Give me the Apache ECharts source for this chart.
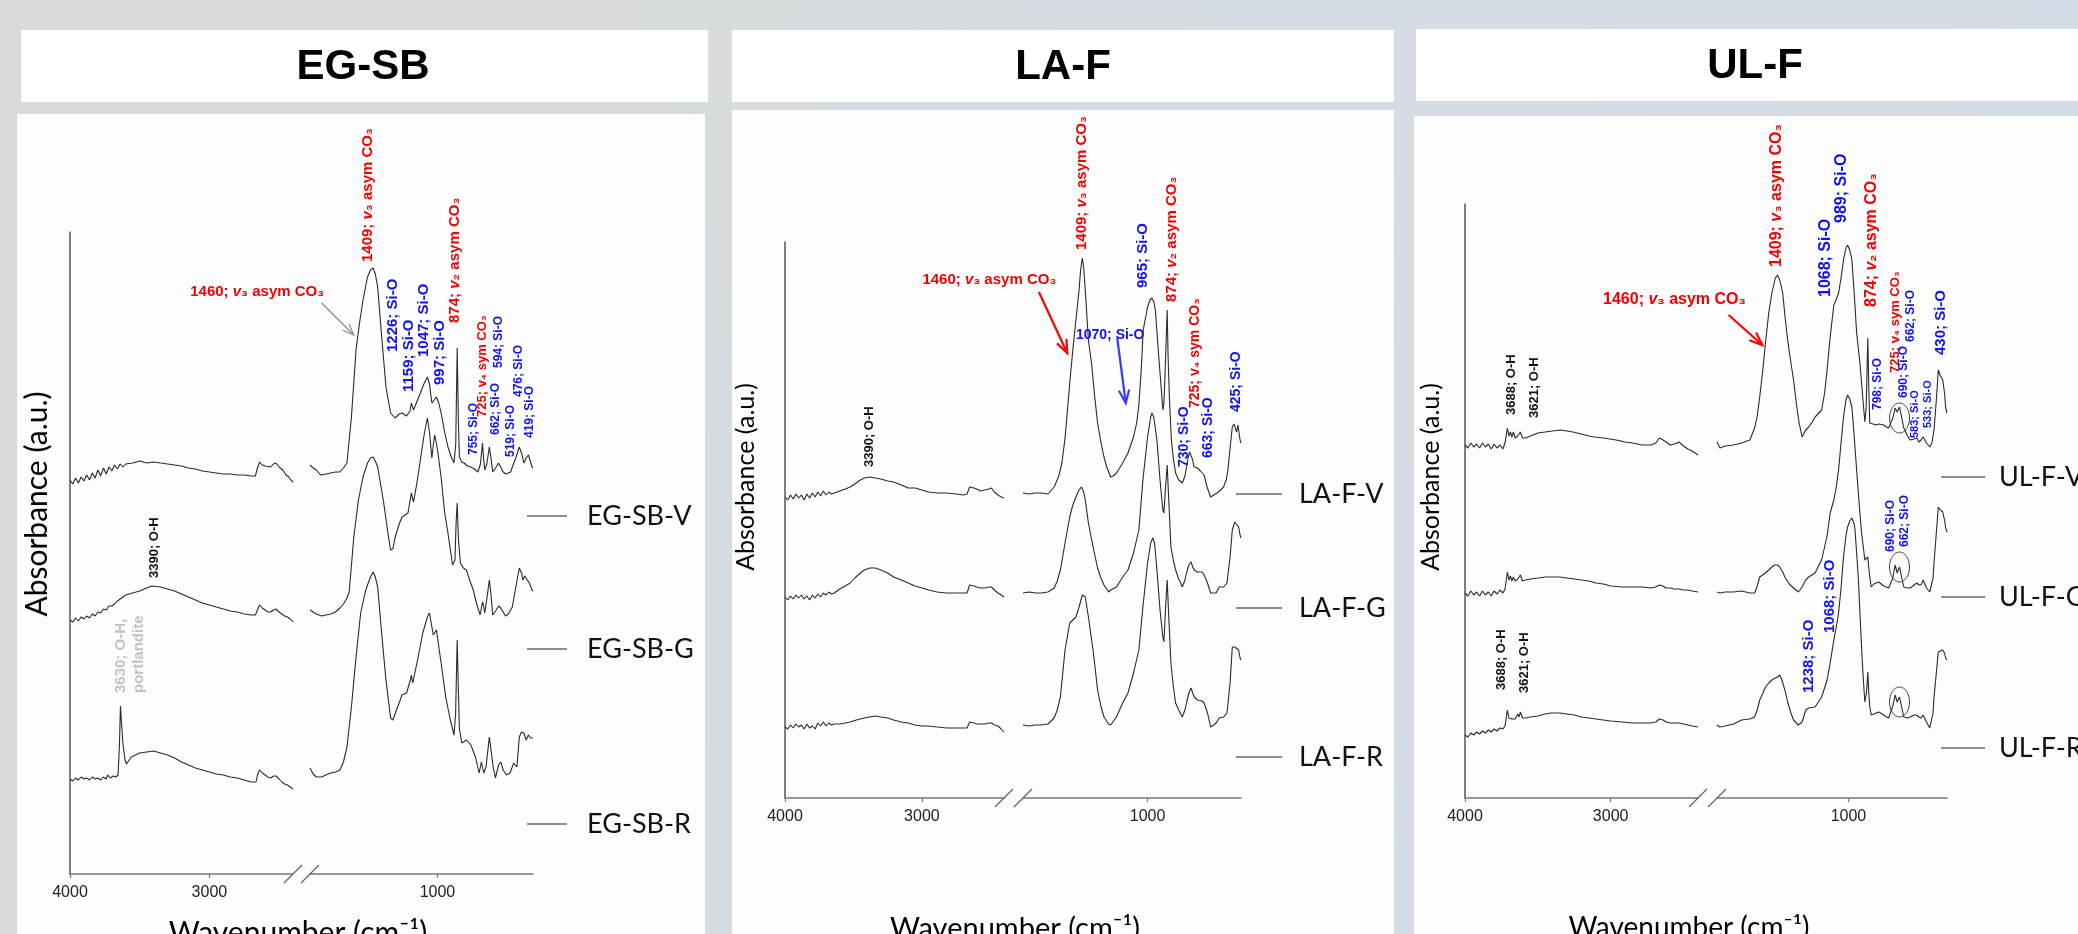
<!DOCTYPE html>
<html><head><meta charset="utf-8">
<script src="https://cdn.jsdelivr.net/npm/echarts@6/dist/echarts.min.js"></script>
<style>html,body{margin:0;padding:0;background:#d8dcdf;}#c{width:2078px;height:934px;}</style>
</head><body><div id="c"></div>
<script>
// ---------------- DATA ----------------
const panelTitles = ['EG-SB', 'LA-F', 'UL-F'];
const sampleNames = [['EG-SB-V', 'EG-SB-G', 'EG-SB-R'], ['LA-F-V', 'LA-F-G', 'LA-F-R'], ['UL-F-V', 'UL-F-G', 'UL-F-R']];
const leftRange = [2400, 4000];   // high-wavenumber segment (cm-1)
const rightRange = [400, 1800];   // fingerprint segment (cm-1)
const leftTicks = [4000, 3000];
const rightTicks = [1000];
const yTitle = 'Absorbance (a.u.)';
const xTitle = 'Wavenumber (cm⁻¹)';

// EG-SB spectra [wavenumber, absorbance (offset, a.u.)]
const egsbV_L = [[4000,3.94],[3980,3.90],[3960,3.96],[3940,3.91],[3920,3.97],[3900,3.93],[3880,3.99],[3860,3.94],[3840,4.01],[3820,3.96],[3800,4.04],[3780,3.98],[3760,4.06],[3740,4.00],[3720,4.07],[3700,4.03],[3680,4.09],[3660,4.05],[3640,4.10],[3620,4.07],[3600,4.10],[3550,4.11],[3500,4.13],[3450,4.11],[3400,4.12],[3350,4.11],[3300,4.10],[3250,4.09],[3200,4.08],[3150,4.06],[3100,4.05],[3050,4.03],[3000,4.02],[2950,4.01],[2900,4.00],[2850,4.00],[2800,3.99],[2750,3.99],[2700,3.98],[2670,3.98],[2655,4.06],[2640,4.12],[2620,4.09],[2600,4.08],[2588,4.07],[2560,4.07],[2540,4.10],[2522,4.11],[2500,4.07],[2473,4.04],[2450,3.99],[2430,3.97],[2415,3.94],[2400,3.92]];
const egsbV_R = [[1800,4.09],[1780,4.06],[1760,4.04],[1740,4.00],[1727,3.99],[1700,4.00],[1670,4.01],[1640,4.02],[1612,4.02],[1590,4.06],[1568,4.11],[1540,4.57],[1511,5.24],[1490,5.50],[1467,5.74],[1439,5.97],[1420,6.04],[1404,6.06],[1390,6.00],[1375,5.87],[1352,5.41],[1323,4.87],[1294,4.61],[1265,4.56],[1240,4.60],[1222,4.61],[1194,4.58],[1172,4.63],[1164,4.71],[1150,4.64],[1130,4.72],[1107,4.81],[1085,4.90],[1063,4.97],[1050,4.90],[1035,4.71],[1020,4.74],[1006,4.77],[990,4.70],[977,4.61],[955,4.42],[934,4.27],[915,4.18],[896,4.11],[885,4.30],[876,5.26],[868,4.50],[862,4.17],[847,4.12],[833,4.11],[810,4.08],[790,4.07],[768,4.05],[746,4.02],[730,4.10],[717,4.31],[710,4.15],[703,4.04],[690,4.10],[674,4.27],[663,4.15],[653,4.02],[635,4.06],[616,4.11],[600,4.06],[587,4.02],[570,4.00],[559,3.99],[540,4.02],[530,4.07],[510,4.15],[486,4.27],[470,4.20],[458,4.11],[443,4.16],[429,4.19],[415,4.12],[406,4.07],[400,4.06]];
const egsbG_L = [[4000,2.54],[3980,2.52],[3960,2.56],[3940,2.53],[3920,2.57],[3900,2.55],[3880,2.58],[3860,2.56],[3840,2.60],[3820,2.58],[3800,2.62],[3780,2.61],[3760,2.65],[3740,2.64],[3720,2.68],[3700,2.68],[3680,2.70],[3660,2.73],[3640,2.75],[3620,2.77],[3600,2.79],[3550,2.81],[3500,2.83],[3450,2.86],[3413,2.88],[3350,2.87],[3300,2.85],[3250,2.83],[3200,2.80],[3150,2.77],[3100,2.74],[3050,2.71],[3000,2.69],[2950,2.67],[2900,2.65],[2850,2.63],[2800,2.62],[2750,2.60],[2700,2.59],[2670,2.59],[2655,2.64],[2640,2.69],[2620,2.66],[2600,2.64],[2580,2.62],[2560,2.62],[2540,2.64],[2522,2.65],[2500,2.62],[2480,2.60],[2460,2.58],[2440,2.57],[2420,2.55],[2400,2.52]];
const egsbG_R = [[1800,2.64],[1780,2.62],[1760,2.60],[1727,2.58],[1700,2.59],[1670,2.60],[1640,2.62],[1612,2.66],[1590,2.70],[1568,2.76],[1554,2.82],[1525,3.37],[1496,3.74],[1467,3.97],[1439,4.11],[1420,4.16],[1404,4.17],[1390,4.13],[1375,4.07],[1338,3.72],[1310,3.40],[1294,3.24],[1280,3.25],[1265,3.37],[1240,3.50],[1222,3.57],[1185,3.61],[1170,3.75],[1164,3.81],[1150,3.72],[1130,3.90],[1107,4.14],[1085,4.38],[1063,4.56],[1050,4.42],[1035,4.16],[1025,4.30],[1017,4.39],[1000,4.25],[977,3.97],[955,3.62],[934,3.41],[915,3.20],[905,3.09],[890,3.14],[883,3.50],[876,3.71],[868,3.35],[856,3.11],[837,3.06],[818,3.04],[800,2.95],[775,2.84],[760,2.74],[746,2.66],[732,2.59],[717,2.72],[710,2.68],[703,2.61],[690,2.75],[674,2.94],[664,2.80],[653,2.59],[635,2.63],[616,2.68],[602,2.66],[587,2.62],[573,2.58],[555,2.60],[530,2.67],[510,2.85],[486,3.06],[470,3.00],[464,2.94],[452,2.98],[443,2.96],[423,2.91],[406,2.84],[400,2.83]];
const egsbR_L = [[4000,0.95],[3980,0.93],[3960,0.96],[3940,0.94],[3920,0.97],[3900,0.95],[3880,0.96],[3860,0.94],[3840,0.97],[3820,0.95],[3800,0.96],[3780,0.94],[3760,0.97],[3740,0.95],[3730,0.99],[3710,0.96],[3690,0.98],[3670,0.97],[3655,0.99],[3645,1.30],[3638,1.68],[3630,1.50],[3620,1.30],[3605,1.14],[3595,1.10],[3580,1.13],[3560,1.17],[3530,1.19],[3500,1.21],[3450,1.22],[3400,1.23],[3350,1.21],[3300,1.19],[3250,1.16],[3200,1.12],[3150,1.09],[3100,1.06],[3050,1.04],[3000,1.02],[2950,1.00],[2900,0.99],[2850,0.97],[2800,0.96],[2750,0.94],[2700,0.92],[2665,0.92],[2655,0.99],[2640,1.04],[2620,1.01],[2600,0.99],[2580,0.97],[2560,0.96],[2540,0.98],[2522,0.98],[2500,0.95],[2480,0.92],[2460,0.90],[2440,0.89],[2420,0.87],[2400,0.85]];
const egsbR_R = [[1800,1.06],[1780,1.00],[1760,0.97],[1727,0.97],[1700,0.99],[1670,1.01],[1640,1.02],[1612,1.04],[1590,1.12],[1568,1.27],[1540,1.67],[1511,2.17],[1482,2.61],[1453,2.82],[1439,2.89],[1420,2.97],[1404,3.02],[1390,2.97],[1375,2.87],[1352,2.44],[1323,1.94],[1294,1.56],[1280,1.54],[1250,1.67],[1222,1.79],[1194,1.81],[1170,1.94],[1164,1.99],[1155,1.91],[1121,2.17],[1092,2.41],[1063,2.57],[1050,2.61],[1026,2.39],[1006,2.44],[977,2.11],[948,1.77],[919,1.54],[896,1.39],[886,1.60],[876,2.34],[868,1.80],[862,1.45],[847,1.31],[818,1.34],[790,1.29],[761,1.17],[738,1.01],[724,1.12],[709,1.01],[695,1.07],[674,1.37],[665,1.37],[650,1.07],[636,0.96],[616,1.09],[602,1.12],[587,1.04],[567,0.99],[544,1.01],[521,1.11],[501,1.07],[486,1.37],[472,1.42],[458,1.41],[443,1.34],[429,1.39],[415,1.36],[406,1.37],[400,1.36]];

// LA-F spectra
const lafV_L = [[4000,3.01],[3980,2.98],[3960,3.03],[3940,2.99],[3920,3.04],[3900,3.00],[3880,3.03],[3860,2.98],[3840,3.04],[3820,3.00],[3800,3.05],[3780,3.01],[3760,3.06],[3740,3.02],[3720,3.07],[3700,3.03],[3680,3.06],[3660,3.04],[3640,3.05],[3600,3.07],[3560,3.09],[3524,3.11],[3480,3.15],[3450,3.18],[3420,3.20],[3381,3.21],[3340,3.20],[3300,3.19],[3250,3.17],[3206,3.16],[3150,3.13],[3100,3.10],[3048,3.10],[3000,3.08],[2950,3.06],[2889,3.05],[2820,3.05],[2750,3.04],[2698,3.03],[2670,3.04],[2651,3.11],[2620,3.10],[2600,3.09],[2571,3.07],[2540,3.08],[2510,3.09],[2492,3.10],[2470,3.06],[2444,3.03],[2420,3.01],[2400,3.00]];
const lafV_R = [[1800,3.05],[1760,3.04],[1720,3.05],[1684,3.05],[1640,3.04],[1600,3.11],[1570,3.22],[1550,3.35],[1530,3.60],[1516,3.85],[1500,4.15],[1480,4.48],[1460,4.78],[1440,5.08],[1430,5.28],[1419,5.40],[1410,5.30],[1400,5.08],[1380,4.58],[1360,4.35],[1340,4.02],[1321,3.75],[1300,3.56],[1280,3.41],[1260,3.30],[1237,3.21],[1220,3.22],[1200,3.25],[1160,3.35],[1126,3.45],[1090,3.61],[1070,3.75],[1056,3.93],[1040,4.30],[1028,4.68],[1000,4.91],[985,4.98],[972,5.00],[960,4.96],[950,4.88],[930,4.45],[910,4.05],[902,3.88],[895,3.95],[890,4.15],[880,4.60],[874,4.88],[868,4.40],[860,4.01],[847,3.58],[835,3.40],[820,3.25],[800,3.18],[790,3.16],[777,3.15],[760,3.22],[740,3.40],[730,3.46],[721,3.46],[710,3.38],[702,3.31],[680,3.30],[660,3.27],[637,3.23],[618,3.11],[595,3.01],[575,3.03],[554,3.05],[530,3.08],[512,3.11],[495,3.18],[484,3.28],[470,3.50],[456,3.71],[445,3.74],[436,3.75],[428,3.66],[420,3.73],[413,3.72],[406,3.58],[400,3.55]];
const lafG_L = [[4000,2.01],[3980,1.98],[3960,2.02],[3940,1.99],[3920,2.03],[3900,2.00],[3880,2.03],[3860,1.99],[3840,2.02],[3820,1.98],[3800,2.03],[3780,2.00],[3760,2.04],[3740,2.01],[3720,2.05],[3700,2.03],[3680,2.06],[3660,2.04],[3640,2.05],[3600,2.09],[3560,2.12],[3524,2.15],[3490,2.20],[3450,2.25],[3420,2.28],[3381,2.30],[3340,2.30],[3300,2.28],[3250,2.25],[3206,2.21],[3150,2.18],[3100,2.15],[3050,2.12],[3000,2.10],[2950,2.08],[2889,2.06],[2820,2.05],[2750,2.05],[2698,2.05],[2670,2.05],[2651,2.13],[2620,2.12],[2600,2.11],[2571,2.10],[2540,2.10],[2510,2.11],[2492,2.11],[2470,2.08],[2444,2.05],[2420,2.03],[2400,2.01]];
const lafG_R = [[1800,2.05],[1760,2.06],[1720,2.05],[1684,2.05],[1640,2.06],[1600,2.10],[1580,2.17],[1560,2.28],[1530,2.55],[1500,2.81],[1480,2.93],[1460,3.01],[1440,3.08],[1425,3.11],[1410,3.06],[1400,2.98],[1380,2.75],[1350,2.51],[1321,2.30],[1300,2.20],[1280,2.13],[1250,2.06],[1237,2.08],[1200,2.11],[1160,2.21],[1126,2.28],[1090,2.45],[1056,2.68],[1030,3.18],[1000,3.61],[980,3.81],[972,3.85],[960,3.81],[940,3.58],[920,3.18],[902,2.88],[895,2.85],[885,3.10],[874,3.33],[865,3.01],[850,2.51],[835,2.38],[820,2.28],[800,2.19],[790,2.16],[777,2.11],[760,2.18],[750,2.25],[735,2.33],[721,2.36],[710,2.31],[700,2.28],[680,2.26],[650,2.26],[637,2.23],[615,2.15],[595,2.05],[575,2.05],[560,2.05],[540,2.11],[512,2.11],[490,2.15],[470,2.41],[456,2.68],[440,2.76],[428,2.76],[415,2.71],[406,2.63],[400,2.60]];
const lafR_L = [[4000,0.71],[3980,0.69],[3960,0.73],[3940,0.70],[3920,0.74],[3900,0.71],[3880,0.73],[3860,0.69],[3840,0.74],[3820,0.70],[3800,0.72],[3780,0.69],[3760,0.75],[3740,0.72],[3720,0.76],[3700,0.72],[3680,0.75],[3660,0.73],[3640,0.74],[3600,0.74],[3560,0.75],[3524,0.76],[3480,0.78],[3450,0.79],[3420,0.80],[3381,0.81],[3340,0.82],[3300,0.81],[3250,0.80],[3206,0.78],[3150,0.76],[3100,0.75],[3050,0.73],[3000,0.72],[2950,0.72],[2889,0.71],[2820,0.70],[2750,0.70],[2698,0.70],[2670,0.70],[2651,0.76],[2620,0.75],[2600,0.74],[2571,0.74],[2540,0.74],[2510,0.75],[2492,0.75],[2470,0.73],[2444,0.72],[2420,0.69],[2400,0.66]];
const lafR_R = [[1800,0.73],[1760,0.72],[1720,0.73],[1684,0.73],[1640,0.74],[1600,0.80],[1580,0.88],[1560,1.01],[1530,1.48],[1500,1.75],[1480,1.78],[1460,1.81],[1440,1.91],[1419,2.03],[1400,2.01],[1380,1.81],[1350,1.48],[1321,1.08],[1300,0.92],[1280,0.81],[1250,0.74],[1237,0.73],[1200,0.81],[1160,0.95],[1126,1.05],[1090,1.25],[1056,1.48],[1030,1.91],[1000,2.35],[980,2.55],[967,2.60],[955,2.55],[940,2.28],[920,1.88],[902,1.61],[895,1.56],[885,1.88],[874,2.18],[865,1.85],[850,1.35],[835,1.12],[820,0.95],[800,0.88],[790,0.85],[777,0.81],[760,0.88],[750,0.95],[735,1.05],[721,1.10],[710,1.05],[700,1.01],[680,0.98],[650,0.97],[637,0.95],[615,0.85],[595,0.71],[575,0.73],[560,0.75],[540,0.80],[512,0.81],[490,0.85],[470,1.15],[456,1.51],[440,1.51],[428,1.50],[415,1.48],[406,1.40],[400,1.38]];

// UL-F spectra
const ulfV_L = [[4000,3.53],[3980,3.50],[3960,3.55],[3940,3.51],[3920,3.54],[3900,3.50],[3880,3.55],[3860,3.51],[3840,3.54],[3820,3.49],[3800,3.54],[3780,3.50],[3760,3.53],[3740,3.49],[3725,3.55],[3709,3.70],[3698,3.62],[3688,3.66],[3678,3.61],[3668,3.66],[3655,3.60],[3638,3.62],[3628,3.60],[3620,3.66],[3605,3.60],[3585,3.60],[3550,3.62],[3500,3.65],[3450,3.66],[3400,3.67],[3347,3.68],[3300,3.67],[3258,3.66],[3200,3.64],[3150,3.62],[3110,3.61],[3050,3.60],[2962,3.58],[2900,3.56],[2850,3.55],[2784,3.53],[2724,3.53],[2690,3.55],[2665,3.60],[2640,3.58],[2620,3.56],[2591,3.53],[2560,3.54],[2531,3.56],[2500,3.52],[2470,3.49],[2440,3.47],[2400,3.43]];
const ulfV_R = [[1800,3.56],[1782,3.50],[1750,3.52],[1700,3.53],[1650,3.55],[1600,3.58],[1571,3.70],[1555,3.82],[1540,4.01],[1520,4.30],[1505,4.55],[1485,4.85],[1466,5.05],[1445,5.20],[1432,5.23],[1418,5.18],[1400,5.05],[1385,4.80],[1370,4.58],[1350,4.35],[1334,4.18],[1315,3.92],[1300,3.75],[1282,3.61],[1270,3.65],[1260,3.68],[1242,3.71],[1220,3.76],[1203,3.81],[1163,3.88],[1145,4.05],[1130,4.28],[1111,4.61],[1089,4.93],[1075,4.98],[1060,5.05],[1045,5.20],[1030,5.38],[1015,5.50],[1005,5.53],[992,5.48],[979,5.38],[965,5.05],[950,4.65],[930,4.35],[915,4.05],[900,3.76],[892,3.90],[882,4.60],[876,4.10],[870,3.75],[850,3.74],[834,3.73],[815,3.74],[803,3.76],[785,3.73],[770,3.71],[755,3.70],[730,3.80],[716,3.90],[703,3.86],[689,3.91],[675,3.80],[663,3.70],[640,3.62],[624,3.58],[600,3.59],[584,3.60],[571,3.56],[558,3.58],[545,3.61],[525,3.55],[505,3.51],[492,3.55],[479,3.68],[465,3.98],[453,4.28],[440,4.22],[426,4.18],[415,4.05],[408,3.90],[400,3.85]];
const ulfG_L = [[4000,2.05],[3980,2.02],[3960,2.07],[3940,2.03],[3920,2.06],[3900,2.02],[3880,2.07],[3860,2.03],[3840,2.06],[3820,2.02],[3800,2.07],[3780,2.04],[3760,2.08],[3740,2.05],[3725,2.09],[3709,2.26],[3698,2.18],[3688,2.22],[3678,2.17],[3668,2.21],[3655,2.17],[3638,2.19],[3628,2.17],[3620,2.23],[3605,2.17],[3585,2.18],[3550,2.19],[3496,2.20],[3450,2.21],[3407,2.21],[3350,2.21],[3300,2.20],[3250,2.19],[3200,2.18],[3150,2.17],[3100,2.15],[3050,2.14],[3000,2.12],[2920,2.11],[2850,2.11],[2784,2.11],[2724,2.10],[2690,2.11],[2665,2.13],[2640,2.12],[2620,2.10],[2591,2.10],[2560,2.09],[2531,2.09],[2500,2.08],[2470,2.08],[2440,2.07],[2400,2.06]];
const ulfG_R = [[1800,2.06],[1782,2.05],[1750,2.06],[1700,2.06],[1650,2.07],[1600,2.05],[1571,2.05],[1555,2.12],[1540,2.21],[1505,2.25],[1485,2.28],[1466,2.31],[1450,2.33],[1432,2.33],[1418,2.31],[1400,2.26],[1387,2.21],[1360,2.14],[1334,2.10],[1305,2.06],[1282,2.11],[1260,2.18],[1242,2.21],[1203,2.25],[1163,2.38],[1130,2.62],[1111,2.85],[1089,2.98],[1075,3.10],[1060,3.28],[1045,3.55],[1030,3.81],[1015,3.98],[1005,4.03],[992,3.99],[979,3.91],[965,3.62],[950,3.28],[935,2.95],[920,2.65],[900,2.38],[890,2.36],[882,2.41],[876,2.30],[870,2.21],[861,2.11],[845,2.14],[834,2.15],[815,2.16],[803,2.15],[785,2.12],[770,2.11],[755,2.10],[730,2.20],[716,2.33],[703,2.25],[689,2.31],[675,2.20],[663,2.11],[640,2.10],[624,2.10],[600,2.13],[584,2.15],[571,2.13],[558,2.13],[545,2.18],[525,2.10],[505,2.06],[497,2.06],[485,2.20],[479,2.35],[465,2.65],[453,2.91],[440,2.88],[426,2.86],[415,2.78],[408,2.70],[400,2.66]];
const ulfR_L = [[4000,0.63],[3980,0.61],[3960,0.65],[3940,0.63],[3920,0.66],[3900,0.64],[3880,0.67],[3860,0.65],[3840,0.68],[3820,0.66],[3800,0.69],[3780,0.67],[3760,0.70],[3740,0.69],[3725,0.72],[3709,0.88],[3698,0.80],[3688,0.82],[3678,0.79],[3668,0.81],[3655,0.79],[3638,0.84],[3628,0.81],[3620,0.86],[3605,0.80],[3585,0.80],[3550,0.81],[3500,0.82],[3450,0.84],[3407,0.85],[3350,0.85],[3300,0.84],[3250,0.83],[3200,0.81],[3150,0.80],[3100,0.79],[3050,0.78],[3000,0.77],[2920,0.76],[2850,0.75],[2784,0.75],[2724,0.75],[2690,0.76],[2665,0.79],[2640,0.78],[2620,0.76],[2591,0.75],[2560,0.75],[2531,0.75],[2500,0.74],[2470,0.73],[2440,0.72],[2400,0.71]];
const ulfR_R = [[1800,0.73],[1782,0.71],[1750,0.72],[1700,0.74],[1650,0.78],[1600,0.79],[1571,0.81],[1555,0.88],[1540,0.98],[1520,1.05],[1505,1.11],[1485,1.15],[1466,1.18],[1445,1.20],[1432,1.21],[1418,1.23],[1405,1.18],[1387,1.08],[1370,0.96],[1350,0.85],[1334,0.78],[1305,0.73],[1282,0.76],[1260,0.88],[1242,0.90],[1203,0.91],[1163,1.01],[1130,1.18],[1111,1.35],[1089,1.58],[1075,1.70],[1060,1.85],[1045,2.10],[1030,2.41],[1015,2.62],[1005,2.71],[992,2.77],[979,2.80],[965,2.74],[960,2.68],[950,2.45],[939,2.18],[930,1.85],[920,1.51],[910,1.20],[900,0.96],[890,1.05],[882,1.26],[876,1.05],[870,0.91],[861,0.83],[845,0.84],[834,0.85],[815,0.86],[803,0.85],[785,0.83],[770,0.81],[755,0.80],[730,0.92],[716,1.03],[703,0.96],[689,1.01],[675,0.90],[663,0.81],[640,0.80],[624,0.81],[600,0.83],[584,0.83],[571,0.81],[558,0.80],[545,0.83],[525,0.76],[505,0.70],[497,0.69],[485,0.85],[479,1.01],[465,1.25],[453,1.46],[440,1.47],[426,1.48],[415,1.45],[408,1.40],[400,1.38]];

// Band assignments: [panel, segment, wavenumber anchor, absorbance anchor, kind, text]
const annotations = [
  [0,'R',1439,6.12,'co3','1409; {i|v}₃ asym CO₃'],
  [0,'R',890,5.51,'co3','874; {i|v}₂ asym CO₃'],
  [0,'R',1280,5.22,'si','1226; Si-O'],
  [0,'R',1179,4.82,'si','1159; Si-O'],
  [0,'R',1087,5.17,'si','1047; Si-O'],
  [0,'R',983,4.89,'si','997; Si-O'],
  [0,'R',775,4.19,'siS','755; Si-O'],
  [0,'R',717,4.57,'co3S','725; v₄ sym CO₃'],
  [0,'R',636,4.39,'siS','662; Si-O'],
  [0,'R',616,5.06,'siS','594; Si-O'],
  [0,'R',538,4.17,'siS','519; Si-O'],
  [0,'R',492,4.77,'siS','476; Si-O'],
  [0,'R',423,4.36,'siS','419; Si-O'],
  [0,'L',3396,2.96,'oh','3390; O-H'],
  [0,'L',3574,1.81,'port','3630; O-H,\nportlandite'],
  [0,'R',1711,5.82,'co3H','1460; {i|v}₃ asym CO₃'],
  [1,'R',1419,5.48,'co3','1409; {i|v}₃ asym CO₃'],
  [1,'R',1028,5.10,'si','965; Si-O'],
  [1,'R',847,4.96,'co3','874; {i|v}₂ asym CO₃'],
  [1,'R',693,3.90,'co3M','725; v₄ sym CO₃'],
  [1,'R',768,3.31,'siM','730; Si-O'],
  [1,'R',609,3.40,'siM','663; Si-O'],
  [1,'R',428,3.86,'siM','425; Si-O'],
  [1,'L',3381,3.31,'oh','3390; O-H'],
  [1,'R',1586,5.18,'co3H','1460; {i|v}₃ asym CO₃'],
  [1,'R',1460,4.63,'siH','1070; Si-O'],
  [2,'R',1440,5.31,'co3L','1409; {i|v}₃ asym CO₃'],
  [2,'R',1137,5.01,'siL','1068; Si-O'],
  [2,'R',1039,5.75,'siL','989; Si-O'],
  [2,'R',861,4.91,'co3L','874; {i|v}₂ asym CO₃'],
  [2,'R',716,4.25,'co3S','725; v₄ sym CO₃'],
  [2,'R',624,4.56,'siS','662; Si-O'],
  [2,'R',440,4.43,'si','430; Si-O'],
  [2,'R',821,3.88,'siS','798; Si-O'],
  [2,'R',663,4.00,'siS','690; Si-O'],
  [2,'R',597,3.60,'siXS','583; Si-O'],
  [2,'R',518,3.70,'siXS','533; Si-O'],
  [2,'L',3680,3.83,'oh','3688; O-H'],
  [2,'L',3525,3.80,'oh','3621; O-H'],
  [2,'R',742,2.46,'siS','690; Si-O'],
  [2,'R',655,2.51,'siS','662; Si-O'],
  [2,'R',1242,1.05,'si','1238; Si-O'],
  [2,'R',1116,1.65,'si','1068; Si-O'],
  [2,'L',3748,1.08,'oh','3688; O-H'],
  [2,'L',3591,1.05,'oh','3621; O-H'],
  [2,'R',1624,4.98,'co3LH','1460; {i|v}₃ asym CO₃']
];
// arrows: [panel, [from wn, a], [to wn, a], kind]
const arrows = [
  [0,[1727,5.71],[1525,5.39],'gray'],
  [1,[1698,5.06],[1516,4.45],'red'],
  [1,[1195,4.60],[1140,3.95],'blue'],
  [2,[1729,4.83],[1524,4.53],'red']
];
// circled doublet (690/662 cm-1) in UL-F: [panel, wn, a]
const circles = [[2,689,3.80],[2,689,2.31],[2,689,0.96]];
// sample label anchor heights (a.u.) per panel
const labelLevels = [[3.58,2.25,0.50],[3.04,1.90,0.41],[3.21,2.01,0.50]];

const spectra = [
  [[egsbV_L, egsbV_R], [egsbG_L, egsbG_R], [egsbR_L, egsbR_R]],
  [[lafV_L, lafV_R], [lafG_L, lafG_R], [lafR_L, lafR_R]],
  [[ulfV_L, ulfV_R], [ulfG_L, ulfG_R], [ulfR_L, ulfR_R]]
];

// ---------------- LAYOUT / STYLE ----------------
const FONT = '"Liberation Sans", Arial, sans-serif';
const CAL = 'Lato, "Open Sans", sans-serif';
const RED = '#f20000', BLUE = '#1010f0', BLACK = '#111111', PGRAY = '#c2c2c2';
const layout = [
  {title:[21,30,687,72], tc:[363,67], plot:[17,114,688,830], gl:[70,223], gr:[310,223], top:232, bot:874, ymax:6.42, ylab:[37,504,30], xlab:[298,918,30], leg:[527,567,587]},
  {title:[732,30,662,72], tc:[1063,67], plot:[732,110,662,830], gl:[785,219], gr:[1023,218], top:242, bot:798, ymax:5.56, ylab:[746,477,25], xlab:[1015,914,29], leg:[1236,1282,1299]},
  {title:[1416,29,700,72], tc:[1755,66], plot:[1414,116,700,830], gl:[1465,233], gr:[1717,230], top:204, bot:798, ymax:5.94, ylab:[1431,477,25], xlab:[1689,914,28], leg:[1941,1985,1999]}
];
const kindStyle = {
  co3:{c:RED,f:15}, co3S:{c:RED,f:13}, co3M:{c:RED,f:14}, co3L:{c:RED,f:16},
  co3H:{c:RED,f:15,h:true}, co3LH:{c:RED,f:16,h:true},
  si:{c:BLUE,f:15}, siS:{c:BLUE,f:12}, siXS:{c:BLUE,f:11}, siM:{c:BLUE,f:14}, siL:{c:BLUE,f:16},
  siH:{c:BLUE,f:14,h:true,left:true}, oh:{c:BLACK,f:13}, port:{c:PGRAY,f:15}
};

const chart = echarts.init(document.getElementById('c'), null, {width:2078, height:934, renderer:'canvas'});
const grids = [], xAxes = [], yAxes = [], series = [];
layout.forEach((l, p) => {
  [['L', l.gl, leftRange, leftTicks], ['R', l.gr, rightRange, rightTicks]].forEach(([seg, g, rng, ticks], k) => {
    const gi = p * 2 + k;
    grids.push({left:g[0], width:g[1], top:l.top, height:l.bot - l.top, containLabel:false});
    xAxes.push({gridIndex:gi, type:'value', inverse:true, min:rng[0], max:rng[1],
      axisLine:{show:true, lineStyle:{color:'#777', width:1.5}},
      axisTick:{show:true, customValues:ticks, length:4, inside:false, lineStyle:{color:'#777', width:1.2}},
      splitLine:{show:false},
      axisLabel:{customValues:ticks, formatter:v => String(v), color:'#222', fontSize:16, fontFamily:FONT, margin:11, showMinLabel:true, showMaxLabel:true}});
    yAxes.push({gridIndex:gi, type:'value', min:0, max:l.ymax, show:k === 0,
      axisLine:{show:true, lineStyle:{color:'#555', width:1.5}}, axisTick:{show:false}, axisLabel:{show:false}, splitLine:{show:false}});
    spectra[p].forEach((s, si) => {
      series.push({type:'line', name:sampleNames[p][si] + '-' + seg, xAxisIndex:gi, yAxisIndex:gi, data:s[k],
        showSymbol:false, symbol:'none', silent:true, lineStyle:{color:'#2a2a2a', width:1.1}, z:3});
    });
  });
});

chart.setOption({
  animation:false,
  backgroundColor:{type:'linear', x:0, y:0, x2:1, y2:1, colorStops:[{offset:0, color:'#d8dad6'}, {offset:0.5, color:'#d6dce3'}, {offset:1, color:'#d2dbe7'}]},
  grid:grids, xAxis:xAxes, yAxis:yAxes, series:series
});

// ---------------- DECORATION ----------------
const px = (p, seg, v) => chart.convertToPixel({gridIndex: p * 2 + (seg === 'L' ? 0 : 1)}, v);
const els = [];
layout.forEach((l, p) => {
  els.push({type:'rect', z:-5, shape:{x:l.title[0], y:l.title[1], width:l.title[2], height:l.title[3]}, style:{fill:'#ffffff'}});
  els.push({type:'rect', z:-5, shape:{x:l.plot[0], y:l.plot[1], width:l.plot[2], height:l.plot[3]}, style:{fill:'#fdfdfd'}});
  els.push({type:'text', z:10, x:l.tc[0], y:l.tc[1], style:{text:panelTitles[p], font:'bold 42px ' + FONT, fill:'#000', textAlign:'center', textVerticalAlign:'middle'}});
  els.push({type:'text', z:10, x:l.ylab[0], y:l.ylab[1], rotation:Math.PI / 2, style:{text:yTitle, font:l.ylab[2] + 'px ' + CAL, fill:'#000', textAlign:'center', textVerticalAlign:'middle'}});
  els.push({type:'text', z:10, x:l.xlab[0], y:l.xlab[1], style:{text:xTitle, font:l.xlab[2] + 'px ' + CAL, fill:'#000', textAlign:'center', textVerticalAlign:'top'}});
  // axis break marks
  const yb = l.bot;
  [l.gl[0] + l.gl[1], l.gr[0]].forEach(xb => {
    els.push({type:'line', z:10, shape:{x1:xb - 9, y1:yb + 9, x2:xb + 9, y2:yb - 9}, style:{stroke:'#666', lineWidth:1.3}});
  });
  // sample labels
  sampleNames[p].forEach((nm, i) => {
    const y = px(p, 'R', [1000, labelLevels[p][i]])[1];
    els.push({type:'line', z:10, shape:{x1:l.leg[0], y1:y, x2:l.leg[1], y2:y}, style:{stroke:'#666', lineWidth:1.5}});
    els.push({type:'text', z:10, x:l.leg[2], y:y, style:{text:nm, font:'27px ' + CAL, fill:'#111', textAlign:'left', textVerticalAlign:'middle'}});
  });
});

annotations.forEach(([p, seg, wn, a, kind, text]) => {
  const st = kindStyle[kind];
  const pt = px(p, seg, [wn, a]);
  const font = 'bold ' + st.f + 'px ' + FONT;
  const rich = {i:{font:'italic bold ' + st.f + 'px ' + FONT, fill:st.c}};
  if (st.h) {
    els.push({type:'text', z:12, x:pt[0], y:pt[1], style:{text:text, rich:rich, font:font, fill:st.c, textAlign:st.left ? 'left' : 'right', textVerticalAlign:'middle'}});
  } else {
    els.push({type:'text', z:12, x:pt[0], y:pt[1], rotation:Math.PI / 2, style:{text:text, rich:rich, font:font, fill:st.c, textAlign:'left', textVerticalAlign:'middle', lineHeight:st.f + 3}});
  }
});

const arrowColor = {gray:'#8a8a8a', red:'#ff0000', blue:'#3a3aff'};
arrows.forEach(([p, from, to, kind]) => {
  const a0 = px(p, 'R', from), a1 = px(p, 'R', to);
  const ang = Math.atan2(a1[1] - a0[1], a1[0] - a0[0]);
  const c = arrowColor[kind], w = kind === 'gray' ? 1.2 : 2.2, hl = kind === 'gray' ? 12 : 14;
  const h1 = [a1[0] - hl * Math.cos(ang - 0.38), a1[1] - hl * Math.sin(ang - 0.38)];
  const h2 = [a1[0] - hl * Math.cos(ang + 0.38), a1[1] - hl * Math.sin(ang + 0.38)];
  els.push({type:'line', z:11, shape:{x1:a0[0], y1:a0[1], x2:a1[0], y2:a1[1]}, style:{stroke:c, lineWidth:w}});
  els.push({type:'polyline', z:11, shape:{points:[h1, a1, h2]}, style:{stroke:c, lineWidth:w, fill:null}});
});
circles.forEach(([p, wn, a]) => {
  const c = px(p, 'R', [wn, a]);
  els.push({type:'ellipse', z:11, shape:{cx:c[0], cy:c[1], rx:10, ry:15}, style:{stroke:'#444', lineWidth:1, fill:null}});
});

chart.setOption({graphic:{elements:els}});
</script>
</body></html>
